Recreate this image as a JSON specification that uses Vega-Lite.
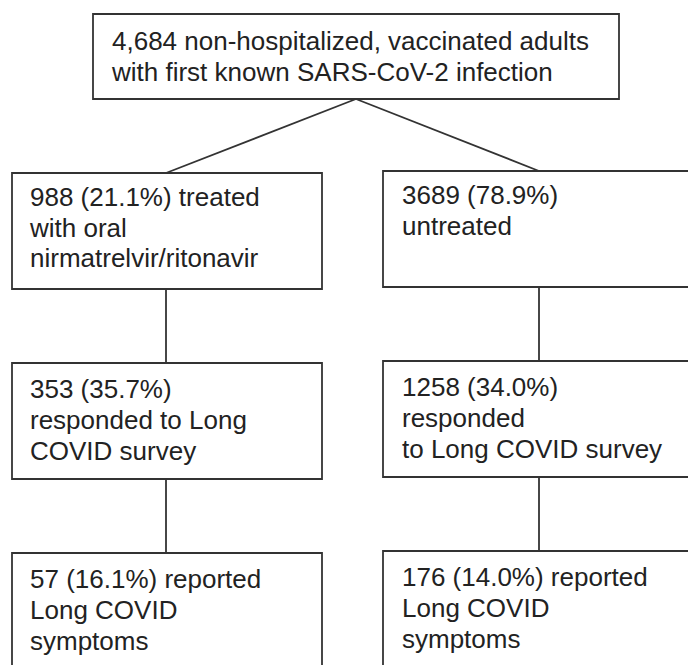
{
  "$schema": "https://vega.github.io/schema/vega-lite/v6.json",
  "width": 688,
  "height": 665,
  "padding": 0,
  "autosize": {"type": "none"},
  "background": "white",
  "config": {"view": {"stroke": null}},
  "datasets": {
    "boxes": [
      {"id": "top", "x1": 93, "x2": 619, "y1": 14, "y2": 99},
      {"id": "treated", "x1": 12, "x2": 322, "y1": 173, "y2": 289},
      {"id": "untreated", "x1": 383, "x2": 700, "y1": 171, "y2": 287},
      {"id": "resp_t", "x1": 12, "x2": 322, "y1": 363, "y2": 479},
      {"id": "resp_u", "x1": 383, "x2": 700, "y1": 361, "y2": 477},
      {"id": "long_t", "x1": 12, "x2": 322, "y1": 553, "y2": 720},
      {"id": "long_u", "x1": 383, "x2": 700, "y1": 551, "y2": 720}
    ],
    "links": [
      {"x1": 356, "y1": 99, "x2": 166, "y2": 173},
      {"x1": 356, "y1": 99, "x2": 539, "y2": 171},
      {"x1": 166, "y1": 289, "x2": 166, "y2": 363},
      {"x1": 539, "y1": 287, "x2": 539, "y2": 361},
      {"x1": 166, "y1": 479, "x2": 166, "y2": 553},
      {"x1": 539, "y1": 477, "x2": 539, "y2": 551}
    ],
    "labels": [
      {"x": 112, "y": 42, "t": "4,684 non-hospitalized, vaccinated adults"},
      {"x": 112, "y": 73, "t": "with first known SARS-CoV-2 infection"},
      {"x": 30, "y": 198, "t": "988 (21.1%) treated"},
      {"x": 30, "y": 229, "t": "with oral"},
      {"x": 30, "y": 259, "t": "nirmatrelvir/ritonavir"},
      {"x": 402, "y": 196, "t": "3689 (78.9%)"},
      {"x": 402, "y": 227, "t": "untreated"},
      {"x": 30, "y": 390, "t": "353 (35.7%)"},
      {"x": 30, "y": 421, "t": "responded to Long"},
      {"x": 30, "y": 452, "t": "COVID survey"},
      {"x": 402, "y": 388, "t": "1258 (34.0%)"},
      {"x": 402, "y": 419, "t": "responded"},
      {"x": 402, "y": 450, "t": "to Long COVID survey"},
      {"x": 30, "y": 580, "t": "57 (16.1%) reported"},
      {"x": 30, "y": 611, "t": "Long COVID"},
      {"x": 30, "y": 642, "t": "symptoms"},
      {"x": 402, "y": 578, "t": "176 (14.0%) reported"},
      {"x": 402, "y": 609, "t": "Long COVID"},
      {"x": 402, "y": 640, "t": "symptoms"}
    ]
  },
  "layer": [
    {
      "data": {"name": "boxes"},
      "mark": {"type": "rect", "fill": "white", "stroke": "#333333", "strokeWidth": 1.8, "clip": true},
      "encoding": {
        "x": {"field": "x1", "type": "quantitative", "scale": {"domain": [0, 688], "nice": false, "zero": false}, "axis": null},
        "x2": {"field": "x2"},
        "y": {"field": "y1", "type": "quantitative", "scale": {"domain": [0, 665], "nice": false, "zero": false, "reverse": true}, "axis": null},
        "y2": {"field": "y2"}
      }
    },
    {
      "data": {"name": "links"},
      "mark": {"type": "rule", "stroke": "#333333", "strokeWidth": 1.8},
      "encoding": {
        "x": {"field": "x1", "type": "quantitative", "scale": {"domain": [0, 688], "nice": false, "zero": false}, "axis": null},
        "x2": {"field": "x2"},
        "y": {"field": "y1", "type": "quantitative", "scale": {"domain": [0, 665], "nice": false, "zero": false, "reverse": true}, "axis": null},
        "y2": {"field": "y2"}
      }
    },
    {
      "data": {"name": "labels"},
      "mark": {"type": "text", "align": "left", "baseline": "middle", "font": "Liberation Sans", "fontSize": 26, "color": "#222222"},
      "encoding": {
        "x": {"field": "x", "type": "quantitative", "scale": {"domain": [0, 688], "nice": false, "zero": false}, "axis": null},
        "y": {"field": "y", "type": "quantitative", "scale": {"domain": [0, 665], "nice": false, "zero": false, "reverse": true}, "axis": null},
        "text": {"field": "t", "type": "nominal"}
      }
    }
  ]
}
